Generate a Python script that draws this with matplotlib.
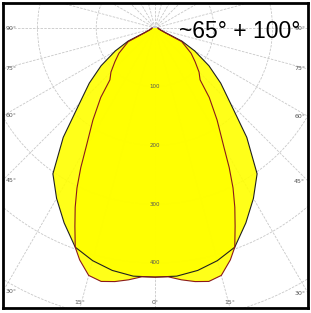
import numpy as np
import matplotlib
matplotlib.use("Agg")
import matplotlib.pyplot as plt
from matplotlib.patches import Circle

# ---- data (luminous intensity, cd/klm) ----
gamma_c0 = [0, 5, 10, 15, 20, 25, 30, 35, 40, 45, 50, 55, 60, 64, 66, 70, 80, 90]
int_c0 = [424, 424, 419, 410, 397, 366, 335, 303, 243, 182, 146, 112, 78, 51, 20, 10, 6, 5]

gamma_c90 = [0, 3, 6, 9, 12, 15, 18, 20, 22, 24, 26, 28, 30, 34, 38, 41, 45, 50, 55, 60, 63, 65, 70, 80, 90]
int_c90 = [424, 424, 431, 437, 441, 436, 415, 397, 364, 334, 303, 269, 235, 189, 150, 117, 106, 89, 75, 58, 51, 20, 10, 6, 5]

ring_values = [100, 200, 300, 400, 500, 600, 700]
ring_labels = ["100", "200", "300", "400"]
angle_ticks = [0, 15, 30, 45, 60, 75, 90]
title = "~65° + 100°"

# ---- figure ----
W, H = 311, 313
fig = plt.figure(figsize=(W / 100, H / 100), dpi=100)
fig.patch.set_facecolor("white")
ax = fig.add_axes([3 / W, 5 / H, 305 / W, 305 / H])
s = 0.5875  # px per unit
cx, cy = 152, 25  # centre inside axes, px from left/top
xmin, xmax = -cx / s, (305 - cx) / s
ymin, ymax = -(305 - cy) / s, cy / s
ax.set_xlim(xmin, xmax)
ax.set_ylim(ymin, ymax)
ax.set_aspect("equal")
ax.set_xticks([])
ax.set_yticks([])
for sp in ax.spines.values():
    sp.set_linewidth(2.0)
    sp.set_color("black")

grid_kw = dict(color="#c8c8c8", lw=0.6, ls=(0, (3, 1.5)), zorder=1)
for rv in ring_values:
    ax.add_patch(Circle((0, 0), rv, fill=False, **grid_kw))
big = 2000
for a in range(0, 360, 15):
    t = np.radians(a)
    ax.plot([0, big * np.sin(t)], [0, -big * np.cos(t)], **grid_kw)


def outline(gam, inten):
    g = np.radians(np.asarray(gam, float))
    r = np.asarray(inten, float)
    xr, yr = r * np.sin(g), -r * np.cos(g)
    x = np.concatenate([-xr[::-1], xr[1:]])
    y = np.concatenate([yr[::-1], yr[1:]])
    return x, y


x0, y0 = outline(gamma_c0, int_c0)
x9, y9 = outline(gamma_c90, int_c90)
ax.fill(x0, y0, color="#ffff00", alpha=0.9, lw=0, zorder=2)
ax.fill(x9, y9, color="#ffff00", alpha=0.9, lw=0, zorder=2)
ax.plot(x0, y0, color="#202020", lw=0.8, zorder=4, solid_joinstyle="round")
ax.plot(x9, y9, color="#8b1a1a", lw=0.8, zorder=4, solid_joinstyle="round")

for rv, lab in zip(ring_values, ring_labels):
    ax.text(0, -rv, lab, ha="center", va="center", fontsize=4, color="#555555", zorder=5)

# angle labels at frame intersections
for a in angle_ticks:
    t = np.radians(a)
    for side in ([1, -1] if a != 0 else [1]):
        dx, dy = side * np.sin(t), -np.cos(t)
        cand = []
        if abs(dx) > 1e-9:
            cand.append((xmax if dx > 0 else xmin) / dx)
        if abs(dy) > 1e-9:
            cand.append(ymin / dy if dy < 0 else 1e9)
        k = min(c for c in cand if c > 0)
        px, py = k * dx, k * dy
        if abs(px - xmin) < 1 or abs(px - xmax) < 1:
            off = (-6 if px > 0 else 6, 0)
        else:
            off = (0, 4)
        ax.annotate(f"{a}°", (px, py), xytext=off, textcoords="offset points",
                    ha="center", va="center", fontsize=4.5, color="#555555",
                    annotation_clip=False, zorder=5)

fig.text(240 / W, 1 - 38 / H, title, ha="center", va="baseline",
         fontsize=16.5, family="Liberation Sans", color="black")

fig.savefig("out.png", dpi=100)
